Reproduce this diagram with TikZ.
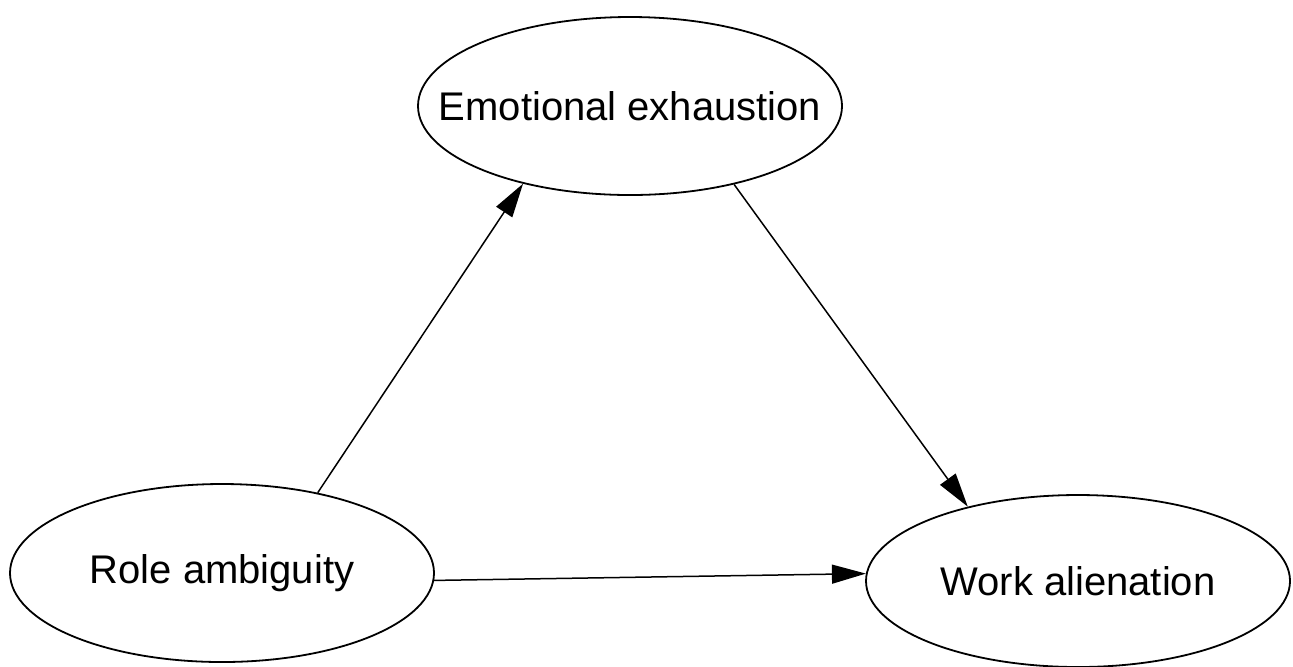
\documentclass[tikz,border=0pt]{standalone}
\usepackage{fontspec}
\setmainfont{Liberation Sans}
\usetikzlibrary{shapes.geometric, arrows.meta}

\tikzset{
  var/.style={ellipse, draw, line width=0.9pt, minimum width=212pt, minimum height=89pt, inner xsep=-25pt, inner ysep=0pt, font=\fontsize{20}{24}\selectfont},
  path/.style={line width=0.75pt, -{Triangle[length=17pt, width=9.5pt]}}
}

\begin{document}
\begin{tikzpicture}[x=0.5pt, y=-0.5pt]
\useasboundingbox (0, 0) rectangle (1293, 666);

\node[var] (emo) at (630, 106){Emotional exhaustion};
\node[var] (role) at (222, 573){Role ambiguity};
\node[var, minimum height=86pt] (work) at (1078, 581){Work alienation};

\draw[path] (role.40.7) -- (emo.216.5);
\draw[path] (emo.-37) -- (work.146);
\draw[path] (role.-2) -- (work.178.5);
\end{tikzpicture}
\end{document}
